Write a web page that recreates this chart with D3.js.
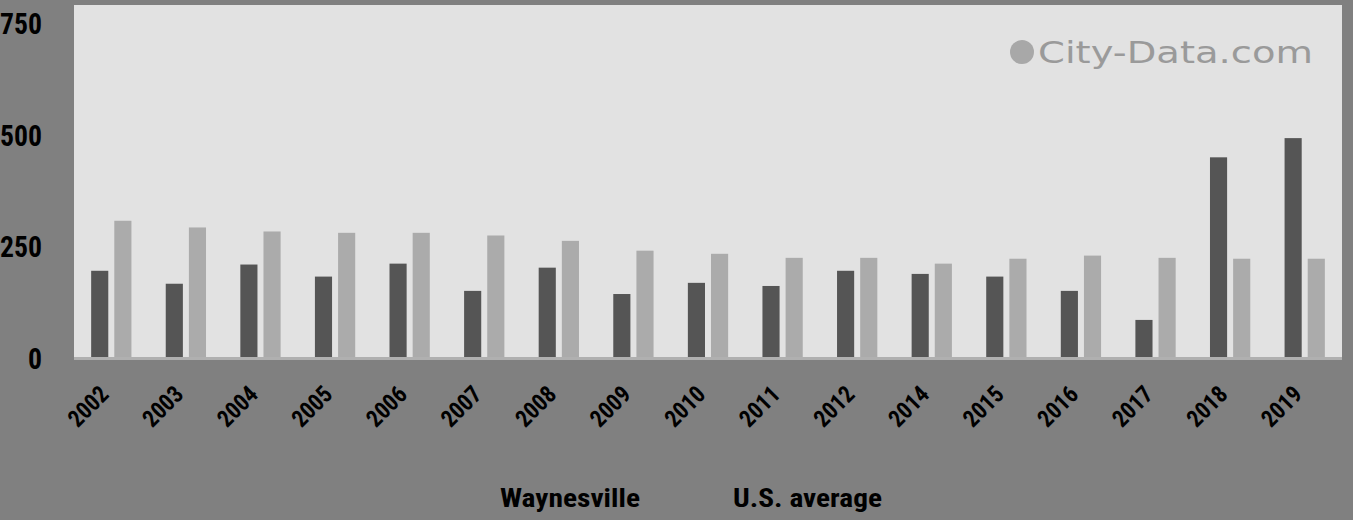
<!DOCTYPE html>
<html>
<head>
<meta charset="utf-8">
<script src="https://cdn.jsdelivr.net/npm/d3@7"></script>
<style>
  html, body { margin: 0; padding: 0; background: #808080; }
  svg { display: block; }
  .lbl { font-family: 'Liberation Sans Narrow', 'Arial Narrow', 'Roboto Condensed', 'Liberation Sans', sans-serif; font-weight: bold; fill: #000; }
</style>
</head>
<body>
<svg id="chart" width="1353" height="520"></svg>
<script>
const years = ['2002','2003','2004','2005','2006','2007','2008','2009','2010','2011','2012','2014','2015','2016','2017','2018','2019'];
const waynesville = [193,164,207,180,209,148,200,141,166,159,193,186,180,148,83,447,490];
const usAverage   = [305,290,281,278,278,272,260,238,231,222,222,209,220,227,222,220,220];
const yTicks = [0,250,500,750];
const seriesNames = ['Waynesville','U.S. average'];
const seriesColors = ['#555555','#ababab'];

const W = 1353, H = 520;
const plot = {left: 74, right: 1342, top: 5, bottom: 357};

const svg = d3.select('#chart');
svg.append('rect').attr('x',0).attr('y',0).attr('width',W).attr('height',H).attr('fill','#808080');
svg.append('rect')
  .attr('x',plot.left).attr('y',plot.top)
  .attr('width',plot.right-plot.left).attr('height',plot.bottom-plot.top)
  .attr('fill','#e2e2e2');

const x = d3.scaleBand().domain(years).range([plot.left, plot.right]).paddingInner(0.46).paddingOuter(0.23);
const x1 = d3.scaleBand().domain(seriesNames).range([0, x.bandwidth()]).paddingInner(0.26);
const y = d3.scaleLinear().domain([0, 788]).range([plot.bottom, plot.top]);

// watermark
const wm = svg.append('g');
wm.append('circle').attr('cx',1022).attr('cy',52).attr('r',12).attr('fill','#a8a8a8');
wm.append('text').attr('x',1038).attr('y',63)
  .attr('textLength',275).attr('lengthAdjust','spacingAndGlyphs')
  .style('font-family',"'DejaVu Sans', Verdana, sans-serif").style('font-size','31px')
  .style('fill','#9a9a9a').text('City-Data.com');

// bars
const groups = svg.append('g').selectAll('g').data(years).join('g')
  .attr('transform', d => `translate(${x(d)},0)`);
groups.append('rect')
  .attr('x', x1('Waynesville')).attr('width', x1.bandwidth())
  .attr('y', (d,i) => y(waynesville[i])).attr('height', (d,i) => y(0) - y(waynesville[i]))
  .attr('fill', seriesColors[0]);
groups.append('rect')
  .attr('x', x1('U.S. average')).attr('width', x1.bandwidth())
  .attr('y', (d,i) => y(usAverage[i])).attr('height', (d,i) => y(0) - y(usAverage[i]))
  .attr('fill', seriesColors[1]);

// baseline
svg.append('line').attr('x1',plot.left).attr('x2',plot.right)
  .attr('y1',plot.bottom+1.5).attr('y2',plot.bottom+1.5)
  .attr('stroke','#b0b0b0').attr('stroke-width',3);

// y axis
const yAxis = svg.append('g').attr('transform',`translate(${plot.left},0)`)
  .call(d3.axisLeft(y).tickValues(yTicks).tickSize(0).tickPadding(32));
yAxis.select('.domain').remove();
yAxis.selectAll('text').attr('class','lbl').attr('font-size',null).attr('font-family',null)
  .style('font-size','29px').attr('dy','0.4em')
  .attr('textLength', d => String(d).length * 14).attr('lengthAdjust','spacingAndGlyphs');

// x axis
const xAxis = svg.append('g').attr('transform',`translate(0,${plot.bottom})`)
  .call(d3.axisBottom(x).tickSize(0));
xAxis.select('.domain').remove();
xAxis.selectAll('text').attr('class','lbl').attr('font-size',null).attr('font-family',null)
  .style('font-size','24px')
  .attr('x',0).attr('y',0).attr('dy','0.35em')
  .attr('text-anchor','end')
  .attr('transform','translate(-7,33) rotate(-45)')
  .attr('textLength',46).attr('lengthAdjust','spacingAndGlyphs');

// legend
const legend = svg.append('g');
legend.append('text').attr('class','lbl').attr('x',500).attr('y',507)
  .style('font-size','25px').attr('textLength',140).attr('lengthAdjust','spacingAndGlyphs')
  .text(seriesNames[0]);
legend.append('text').attr('class','lbl').attr('x',733).attr('y',507)
  .style('font-size','25px').attr('textLength',149).attr('lengthAdjust','spacingAndGlyphs')
  .text(seriesNames[1]);
</script>
</body>
</html>
